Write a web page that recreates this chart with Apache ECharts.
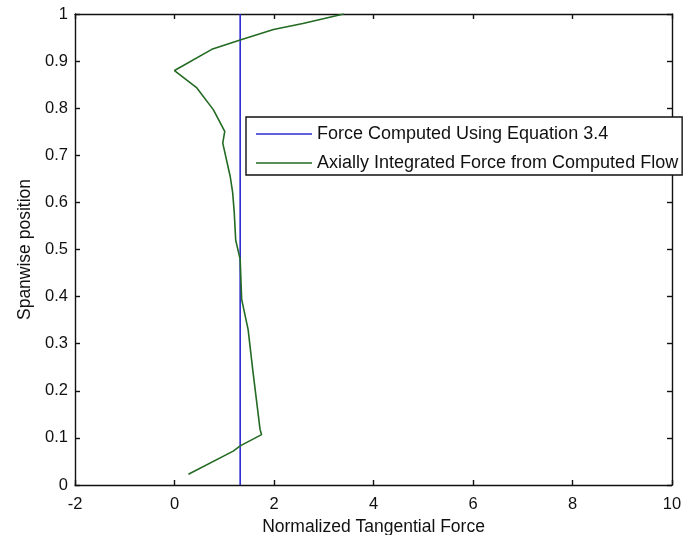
<!DOCTYPE html>
<html>
<head>
<meta charset="utf-8">
<script src="https://cdn.jsdelivr.net/npm/echarts@6/dist/echarts.min.js"></script>
<style>
  html, body { margin: 0; padding: 0; background: #fff; }
  #chart { width: 685px; height: 535px; }
</style>
</head>
<body>
<div id="chart"></div>
<script>
// Spanwise distribution of normalized tangential force
const xTicks = [-2, 0, 2, 4, 6, 8, 10];
const yTicks = [0, 0.1, 0.2, 0.3, 0.4, 0.5, 0.6, 0.7, 0.8, 0.9, 1];

// Force from Equation 3.4 (constant along the span)
const equationForce = 1.32;
const equationSpan = [0, 1];

// Axially integrated force from the computed flow
const computedForce = [0.28, 1.18, 1.32, 1.75, 1.72, 1.58, 1.48, 1.35, 1.32, 1.23, 1.20, 1.17, 1.12, 0.97, 1.01, 0.78, 0.45, 0.00, 0.75, 1.32, 1.99, 2.58, 3.40];
const computedSpan  = [0.023, 0.072, 0.083, 0.107, 0.118, 0.238, 0.330, 0.394, 0.479, 0.520, 0.580, 0.620, 0.655, 0.726, 0.751, 0.797, 0.843, 0.880, 0.925, 0.945, 0.967, 0.980, 1.000];

const seriesNames = ['Force Computed Using Equation 3.4', 'Axially Integrated Force from Computed Flow'];

const font = 'Liberation Sans, Arial, Helvetica, sans-serif';
const ink = '#111';
const chart = echarts.init(document.getElementById('chart'));

const axisLine = { show: true, onZero: false, lineStyle: { color: ink, width: 1.4 } };
const axisTick = { show: true, inside: true, length: 5, lineStyle: { color: ink, width: 1.4 } };
const tickFont = { fontFamily: font, fontSize: 16.5, color: ink };

chart.setOption({
  animation: false,
  backgroundColor: '#fff',
  grid: { left: 75, right: 13, top: 14, bottom: 50, containLabel: false, outerBoundsMode: 'none' },
  legend: {
    orient: 'vertical',
    left: 246,
    top: 117,
    backgroundColor: '#fff',
    borderColor: ink,
    borderWidth: 1.4,
    borderRadius: 0,
    padding: [8, 4, 3, 10],
    icon: 'rect',
    itemWidth: 56,
    itemHeight: 1.6,
    itemGap: 11,
    textStyle: { fontFamily: font, fontSize: 18, lineHeight: 18, color: ink, padding: [0, 0, 0, 0] },
    data: seriesNames
  },
  xAxis: [{
    type: 'value', min: xTicks[0], max: xTicks[xTicks.length - 1], interval: 2,
    name: 'Normalized Tangential Force', nameLocation: 'middle', nameGap: 33,
    nameTextStyle: { fontFamily: font, fontSize: 17.5, color: ink },
    axisLine, axisTick,
    axisLabel: Object.assign({ margin: 11 }, tickFont),
    splitLine: { show: false }
  }, {
    type: 'value', position: 'top', min: xTicks[0], max: xTicks[xTicks.length - 1], interval: 2,
    axisLine, axisTick, axisLabel: { show: false }, splitLine: { show: false }
  }],
  yAxis: [{
    type: 'value', min: yTicks[0], max: yTicks[yTicks.length - 1], interval: 0.1,
    name: 'Spanwise position', nameLocation: 'middle', nameGap: 41,
    nameTextStyle: { fontFamily: font, fontSize: 17.5, color: ink },
    axisLine, axisTick,
    axisLabel: Object.assign({ margin: 7, formatter: v => String(Math.round(v * 10) / 10) }, tickFont),
    splitLine: { show: false }
  }, {
    type: 'value', position: 'right', min: yTicks[0], max: yTicks[yTicks.length - 1], interval: 0.1,
    axisLine, axisTick, axisLabel: { show: false }, splitLine: { show: false }
  }],
  series: [{
    name: seriesNames[0],
    type: 'line',
    symbol: 'none',
    color: '#2b2bd0',
    lineStyle: { width: 1.6, color: '#2b2bd0' },
    data: equationSpan.map(s => [equationForce, s])
  }, {
    name: seriesNames[1],
    type: 'line',
    symbol: 'none',
    color: '#236a23',
    lineStyle: { width: 1.6, color: '#236a23' },
    data: computedForce.map((f, i) => [f, computedSpan[i]])
  }]
});
</script>
</body>
</html>
